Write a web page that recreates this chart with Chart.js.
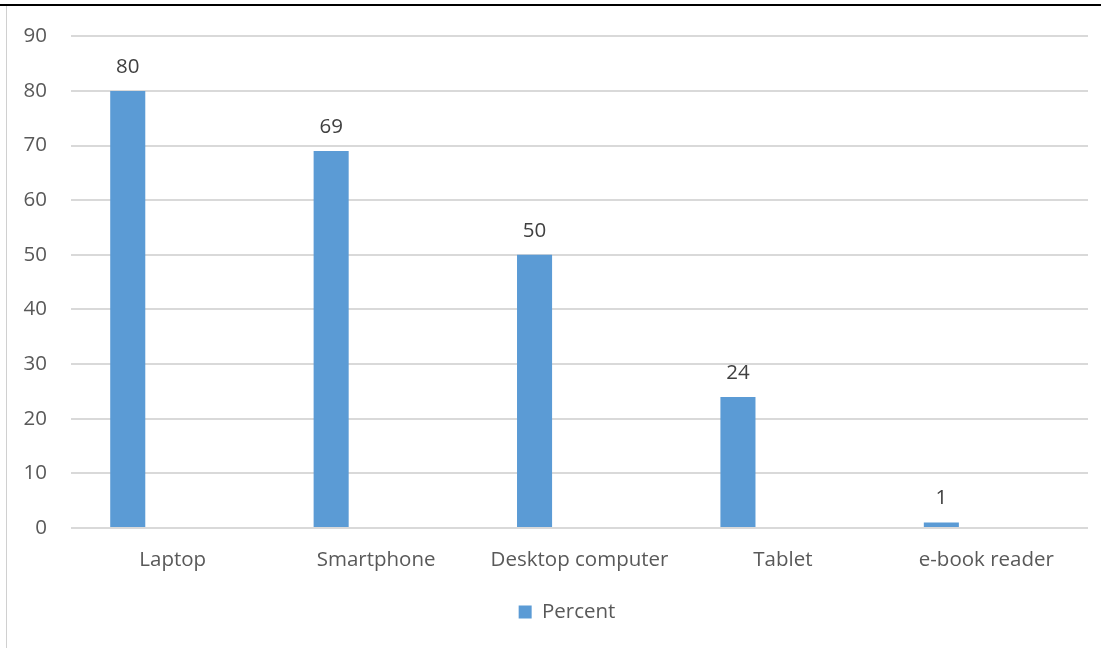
<!DOCTYPE html>
<html>
<head>
<meta charset="utf-8">
<script src="https://cdn.jsdelivr.net/npm/chart.js@4.4.1/dist/chart.umd.min.js"></script>
<style>
  html, body { margin: 0; padding: 0; background: #fff; }
  #wrap { position: relative; width: 1107px; height: 648px; overflow: hidden; }
  #topline { position: absolute; left: 0; top: 4px; width: 1101px; height: 2px; background: #000; }
  #leftline { position: absolute; left: 6px; top: 6px; width: 1px; height: 642px; background: #d0d0d0; }
  canvas { position: absolute; left: 0; top: 0; }
</style>
</head>
<body>
<div id="wrap">
  <canvas id="c" width="1107" height="648"></canvas>
  <div id="topline"></div>
  <div id="leftline"></div>
</div>
<script>
const categories = ["Laptop", "Smartphone", "Desktop computer", "Tablet", "e-book reader"];
const percentValues = [80, 69, 50, 24, 1];
const emptySeries = [null, null, null, null, null];
const seriesName = "Percent";

const FONT = "'Open Sans', sans-serif";
const FS = 20.5;

const dataLabels = {
  id: 'dataLabels',
  afterDatasetsDraw(chart) {
    const ctx = chart.ctx;
    const meta = chart.getDatasetMeta(0);
    ctx.save();
    ctx.font = FS + "px " + FONT;
    ctx.fillStyle = "#404040";
    ctx.textAlign = "center";
    ctx.textBaseline = "middle";
    meta.data.forEach((bar, i) => {
      const v = chart.data.datasets[0].data[i];
      ctx.fillText(String(v), bar.x, bar.y - 24);
    });
    ctx.restore();
  }
};

// Center the legend under the plot area rather than the whole canvas
const legendShift = {
  id: 'legendShift',
  afterLayout(chart) {
    if (chart.legend) chart.legend.left += chart.chartArea.left - 25;
  }
};

new Chart(document.getElementById('c'), {
  type: 'bar',
  data: {
    labels: categories,
    datasets: [
      { label: seriesName, data: percentValues, backgroundColor: '#5B9BD5', borderWidth: 0 },
      { label: '', data: emptySeries, backgroundColor: 'rgba(0,0,0,0)' }
    ]
  },
  options: {
    responsive: false,
    animation: false,
    devicePixelRatio: 1,
    layout: { padding: { left: 0, right: 19, top: 36, bottom: 15.75 } },
    datasets: { bar: { categoryPercentage: 0.884, barPercentage: 0.39 } },
    scales: {
      x: {
        grid: { display: false, drawTicks: false },
        border: { display: false },
        ticks: { color: '#595959', font: { family: FONT, size: FS }, padding: 20, maxRotation: 0 },
        afterFit(scale) { scale.height = 63.75; }
      },
      y: {
        min: 0, max: 90,
        grid: { color: '#D9D9D9', lineWidth: 2, drawTicks: false },
        border: { display: false },
        ticks: { stepSize: 10, color: '#595959', font: { family: FONT, size: FS }, padding: 24 },
        afterFit(scale) { scale.width = 71; }
      }
    },
    plugins: {
      legend: {
        position: 'bottom',
        labels: {
          boxWidth: 13, boxHeight: 13, padding: 10,
          color: '#595959', font: { family: FONT, size: FS },
          filter: (item) => item.text !== ''
        }
      },
      tooltip: { enabled: false }
    }
  },
  plugins: [dataLabels, legendShift]
});
</script>
</body>
</html>
